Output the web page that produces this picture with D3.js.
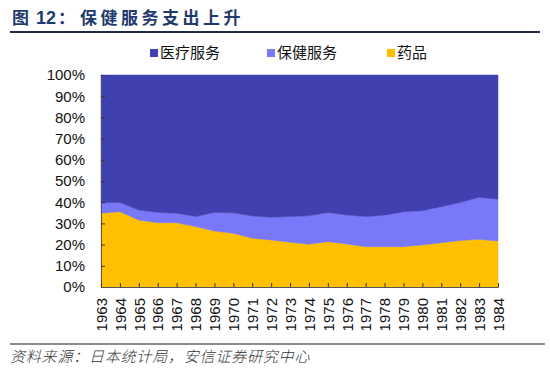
<!DOCTYPE html>
<html><head><meta charset="utf-8">
<script src="https://cdn.jsdelivr.net/npm/d3@7/dist/d3.min.js"></script>
<style>body{margin:0;background:#fff}svg{display:block}</style>
</head><body>
<script>
const years = ["1963","1964","1965","1966","1967","1968","1969","1970","1971","1972","1973","1974","1975","1976","1977","1978","1979","1980","1981","1982","1983","1984"];
const drug    = [34.8,35.5,31.6,30.3,30.3,28.5,26.4,25.3,23.0,22.2,21.1,20.2,21.4,20.3,19.0,19.0,19.0,19.8,20.9,21.9,22.5,21.7];
const health  = [5.0,4.3,4.7,4.9,4.5,4.7,8.8,9.7,10.5,10.7,12.1,13.4,13.7,13.7,14.2,14.9,16.5,16.2,17.0,17.9,19.8,19.7];
const medical = [60.2,60.2,63.7,64.8,65.2,66.8,64.8,65.0,66.5,67.1,66.8,66.4,64.9,66.0,66.8,66.1,64.5,64.0,62.1,60.2,57.7,58.6];
const yTicks = [0,10,20,30,40,50,60,70,80,90,100];
const seriesNames = ["医疗服务","保健服务","药品"];
const colors = {"医疗服务":"#4040b0","保健服务":"#7878f8","药品":"#ffc000"};

const W=550,H=370;
const svg=d3.select("body").append("svg").attr("width",W).attr("height",H);
svg.append("rect").attr("width",W).attr("height",H).attr("fill","#fff");

const rows = years.map((y,i)=>({year:y,"药品":drug[i],"保健服务":health[i],"医疗服务":medical[i]}));
const stack = d3.stack().keys(["药品","保健服务","医疗服务"]);
const layers = stack(rows);

const x = d3.scalePoint().domain(years).range([101,498]);
const y = d3.scaleLinear().domain([0,100]).range([287,75]);

const area = d3.area().x(d=>x(d.data.year)).y0(d=>y(d[0])).y1(d=>y(d[1]));
svg.append("g").selectAll("path").data(layers).join("path")
  .attr("d",area).attr("fill",d=>colors[d.key]).attr("stroke",d=>colors[d.key]).attr("stroke-width",0.5);

// y axis
const yAxis = svg.append("g").attr("transform","translate(101,0)")
  .call(d3.axisLeft(y).tickValues(yTicks).tickSize(-4).tickPadding(16).tickFormat(d=>d+"%"));
yAxis.select(".domain").attr("stroke","#555");
yAxis.selectAll(".tick line").attr("stroke","#333");
yAxis.selectAll("text").attr("font-family","Liberation Sans, Arial, sans-serif").attr("font-size",15).attr("fill","#111");

// x axis
const xAxis = svg.append("g").attr("transform","translate(0,287)")
  .call(d3.axisBottom(x).tickSize(-4).tickPadding(0));
xAxis.select(".domain").attr("stroke","#555");
xAxis.selectAll(".tick line").attr("stroke","#333");
xAxis.selectAll("text").attr("font-family","Liberation Sans, Arial, sans-serif").attr("font-size",15).attr("fill","#111")
  .attr("transform","rotate(-90)").attr("text-anchor","end").attr("x",-11).attr("y",0).attr("dy","0.35em");

// title
const t = svg.append("text").attr("y",24).attr("fill","#1f3a6e").attr("font-family","Noto Sans CJK SC, sans-serif").attr("font-weight","bold").attr("font-size",17);
t.append("tspan").attr("x",12).text("图");
t.append("tspan").attr("x",36).attr("font-family","Liberation Sans, Arial, sans-serif").attr("font-size",18).text("12");
t.append("tspan").attr("x",58).text("：");
t.append("tspan").attr("x",80).attr("letter-spacing",3.5).text("保健服务支出上升");
svg.append("line").attr("x1",10).attr("x2",540).attr("y1",32).attr("y2",32).attr("stroke","#1f2a44").attr("stroke-width",2);

// legend
const legX = [150,267,387];
const leg = svg.append("g").selectAll("g").data(seriesNames).join("g").attr("transform",(d,i)=>`translate(${legX[i]},53)`);
leg.append("rect").attr("x",0).attr("y",-4).attr("width",8).attr("height",8).attr("fill",d=>colors[d]);
leg.append("text").attr("x",10).attr("y",0).attr("dy","0.36em").attr("font-family","Noto Sans CJK SC, sans-serif").attr("font-size",15).attr("fill","#111").text(d=>d);

// source
svg.append("line").attr("x1",10).attr("x2",545).attr("y1",344).attr("y2",344).attr("stroke","#666").attr("stroke-width",1.5);
svg.append("text").attr("x",10).attr("y",362).attr("font-family","Noto Sans CJK SC, sans-serif").attr("font-style","italic").attr("font-weight",300).attr("letter-spacing",0.8).attr("font-size",15).attr("fill","#333").text("资料来源：日本统计局，安信证券研究中心");
</script>
</body></html>
